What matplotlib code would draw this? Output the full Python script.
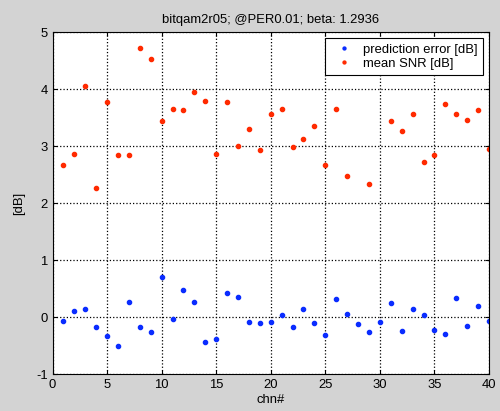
import numpy as np
import matplotlib
matplotlib.use("Agg")
import matplotlib.pyplot as plt

# --- data ---
chn = np.arange(1, 41)
pred_err = [-0.06, 0.10, 0.15, -0.18, -0.34, -0.50, 0.26, -0.18, -0.27, 0.70,
            -0.04, 0.47, 0.27, -0.43, -0.39, 0.42, 0.35, -0.08, -0.11, -0.09,
            0.03, -0.18, 0.15, -0.11, -0.32, 0.31, 0.05, -0.13, -0.27, -0.08,
            0.24, -0.25, 0.15, 0.03, -0.22, -0.30, 0.33, -0.15, 0.19, -0.06]
mean_snr = [2.68, 2.87, 4.06, 2.27, 3.78, 2.84, 2.84, 4.73, 4.54, 3.45,
            3.66, 3.64, 3.96, 3.80, 2.87, 3.77, 3.01, 3.30, 2.94, 3.56,
            3.66, 2.98, 3.12, 3.35, 2.68, 3.66, 2.47, np.nan, 2.34, np.nan,
            3.45, 3.27, 3.57, 2.73, 2.85, 3.75, 3.57, 3.47, 3.64, 2.96]

plt.rcParams['font.family'] = ['Liberation Sans', 'DejaVu Sans']
plt.rcParams['font.size'] = 9.4
plt.rcParams['axes.unicode_minus'] = False

fig = plt.figure(figsize=(5.0, 4.11), dpi=100, facecolor='#d3d3d3')
ax = fig.add_axes([0.105, 0.090, 0.873, 0.831])

ax.plot(chn, pred_err, '.', color='#0a2cff', markersize=6, label='prediction error [dB]')
ax.plot(chn, mean_snr, '.', color='#ff2a00', markersize=6, label='mean SNR [dB]')

ax.set_xlim(0, 40)
ax.set_ylim(-1, 5)
ax.set_xticks(np.arange(0, 41, 5))
ax.set_yticks(np.arange(-1, 6, 1))
ax.grid(True, linestyle=':', color='black', linewidth=0.9)
ax.tick_params(direction='in', length=3, top=True, right=True, labelsize=9.4)

ax.set_title('bitqam2r05; @PER0.01; beta: 1.2936', fontsize=9.4, pad=7)
ax.set_xlabel('chn#', fontsize=9.4, labelpad=2)
ax.set_ylabel('[dB]', fontsize=9.4, labelpad=8)

leg = ax.legend(loc='upper right', fontsize=9.4, frameon=True, fancybox=False,
                borderaxespad=0.45, handlelength=2.1, handletextpad=0.45,
                borderpad=0.4, labelspacing=0.15, markerscale=0.7)
leg.get_frame().set_edgecolor('black')
leg.get_frame().set_linewidth(0.8)
leg.get_frame().set_alpha(1)

fig.savefig('out.png', dpi=100, facecolor=fig.get_facecolor())
